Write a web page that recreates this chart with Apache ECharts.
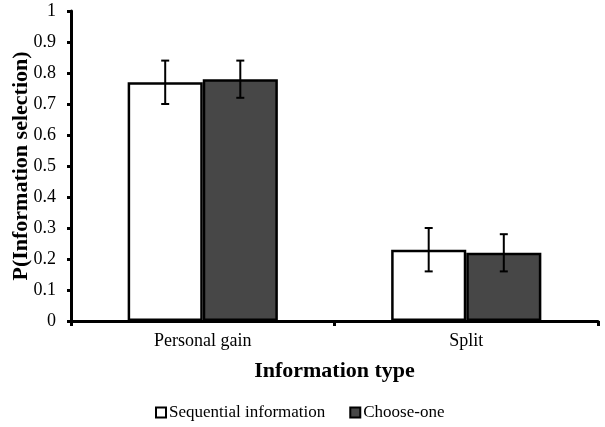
<!DOCTYPE html>
<html>
<head>
<meta charset="utf-8">
<script src="https://cdn.jsdelivr.net/npm/echarts@6/dist/echarts.min.js"></script>
<style>
html, body { margin: 0; padding: 0; background: #fff; }
#main { width: 605px; height: 427px; }
</style>
</head>
<body>
<div id="main"></div>
<script>
// data
var categories = ['Personal gain', 'Split'];
var seriesNames = ['Sequential information', 'Choose-one'];
var sequential = [0.77, 0.23];
var chooseOne = [0.78, 0.22];
var sequentialLow = [0.70, 0.16];
var sequentialHigh = [0.84, 0.30];
var chooseOneLow = [0.72, 0.16];
var chooseOneHigh = [0.84, 0.28];

var FONT = 'Liberation Serif';
var CAT_GAP = 0.43;

var chart = echarts.init(document.getElementById('main'));

// error bar for series idx (0 or 1) of the grouped bars
function errorBar(idx) {
    return function (params, api) {
        var x = api.value(0);
        var lowPt = api.coord([x, api.value(1)]);
        var highPt = api.coord([x, api.value(2)]);
        var band = api.size([1, 0])[0];
        var barW = band * (1 - CAT_GAP) / 2;
        var cx = lowPt[0] - band * (1 - CAT_GAP) / 2 + barW * (idx + 0.5);
        var cap = 4;
        var st = { stroke: '#000', lineWidth: 2 };
        return {
            type: 'group',
            children: [
                { type: 'line', shape: { x1: cx, y1: highPt[1], x2: cx, y2: lowPt[1] }, style: st },
                { type: 'line', shape: { x1: cx - cap, y1: highPt[1], x2: cx + cap, y2: highPt[1] }, style: st },
                { type: 'line', shape: { x1: cx - cap, y1: lowPt[1], x2: cx + cap, y2: lowPt[1] }, style: st }
            ]
        };
    };
}

function errData(low, high) {
    var out = [];
    for (var i = 0; i < categories.length; i++) {
        out.push([i, low[i], high[i]]);
    }
    return out;
}

var option = {
    animation: false,
    backgroundColor: '#fff',
    textStyle: { fontFamily: FONT },
    grid: { left: 71, right: 7, top: 11, bottom: 106, containLabel: false, outerBoundsMode: 'none' },
    legend: {
        bottom: 1,
        left: 150,
        itemWidth: 10,
        itemHeight: 10,
        itemGap: 24,
        icon: 'rect',
        data: seriesNames,
        textStyle: { fontFamily: FONT, fontSize: 17, color: '#000', padding: [0, 0, 0, -2] }
    },
    xAxis: {
        type: 'category',
        data: categories,
        name: 'Information type',
        nameLocation: 'middle',
        nameGap: 39,
        nameMoveOverlap: false,
        nameTextStyle: { fontFamily: FONT, fontSize: 22, fontWeight: 'bold', color: '#000' },
        axisLine: { lineStyle: { color: '#000', width: 3 } },
        axisTick: { show: true, alignWithLabel: false, length: 5, lineStyle: { color: '#000', width: 3 } },
        axisLabel: { fontFamily: FONT, fontSize: 18, color: '#000', margin: 11 }
    },
    yAxis: {
        type: 'value',
        min: 0,
        max: 1,
        interval: 0.1,
        name: 'P(Information selection)',
        nameLocation: 'middle',
        nameGap: 39,
        nameMoveOverlap: false,
        nameTextStyle: { fontFamily: FONT, fontSize: 22, fontWeight: 'bold', color: '#000' },
        axisLine: { show: true, lineStyle: { color: '#000', width: 3 } },
        axisTick: { show: true, length: 4, lineStyle: { color: '#000', width: 3 } },
        splitLine: { show: false },
        axisLabel: {
            fontFamily: FONT, fontSize: 18, color: '#000', margin: 15,
            formatter: function (v) { return String(Math.round(v * 10) / 10); }
        }
    },
    series: [
        {
            name: seriesNames[0],
            type: 'bar',
            data: sequential,
            barGap: '0%',
            barCategoryGap: (CAT_GAP * 100) + '%',
            itemStyle: { color: '#ffffff', borderColor: '#000', borderWidth: 2.5 }
        },
        {
            name: seriesNames[1],
            type: 'bar',
            data: chooseOne,
            barGap: '0%',
            barCategoryGap: (CAT_GAP * 100) + '%',
            itemStyle: { color: '#474747', borderColor: '#000', borderWidth: 2.5 }
        },
        {
            type: 'custom',
            renderItem: errorBar(0),
            data: errData(sequentialLow, sequentialHigh),
            encode: { x: 0, y: [1, 2] },
            z: 10,
            silent: true
        },
        {
            type: 'custom',
            renderItem: errorBar(1),
            data: errData(chooseOneLow, chooseOneHigh),
            encode: { x: 0, y: [1, 2] },
            z: 10,
            silent: true
        }
    ]
};

chart.setOption(option);
</script>
</body>
</html>
